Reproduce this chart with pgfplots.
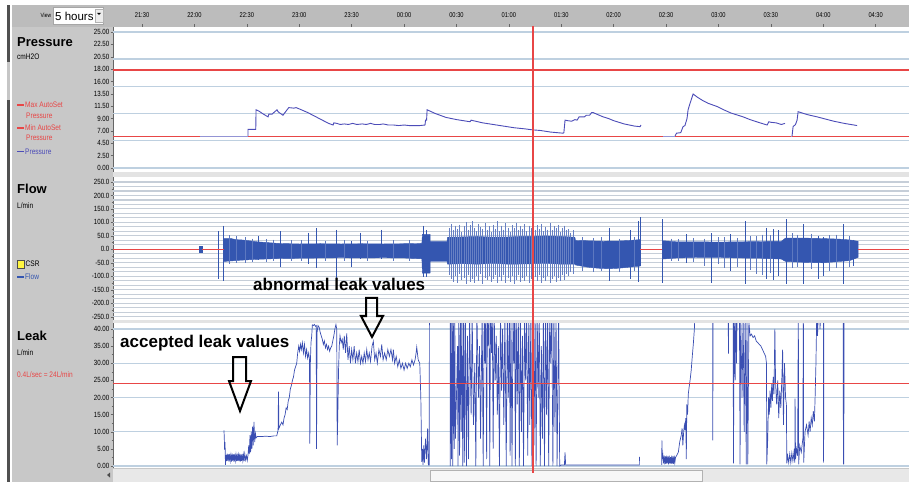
\documentclass[border=0pt]{standalone}
\usepackage{pgfplots}
\pgfplotsset{compat=1.18}
\usepackage{fontspec}
\setmainfont{Liberation Sans}
\newfontfamily\narrowfont[FakeStretch=0.82]{Liberation Sans}
\definecolor{panelgray}{RGB}{200,200,200}
\definecolor{topgray}{RGB}{188,188,188}
\definecolor{gridblue}{RGB}{190,208,224}
\definecolor{flowgrid}{RGB}{198,206,216}
\definecolor{redline}{RGB}{232,70,70}
\definecolor{pblue}{RGB}{76,76,184}
\definecolor{fblue}{RGB}{52,86,176}
\definecolor{lblue}{RGB}{58,78,178}
\definecolor{darkstrip}{RGB}{80,80,80}
\newcommand\tickfont{\narrowfont\fontsize{7.5}{8}\selectfont}
\newcommand\tinyfont{\narrowfont\fontsize{8}{9}\selectfont}
\newcommand\redrule[2]{\node[anchor=west, inner sep=0pt, outer sep=0pt] at (axis cs:#1) {\color{redline}\rule{#2}{1.3pt}};}
\pgfplotsset{
  panel/.style={
    scale only axis, width=796pt,
    xmin=21.223, xmax=28.818,
    axis background/.style={fill=white},
    separate axis lines,
    axis y line*=left,
    x axis line style={draw=none},
    y axis line style={draw=black!60, line width=0.5pt},
    tick align=outside,
    major tick length=2.5pt,
    minor tick length=1.5pt,
    tick style={black!60, line width=0.4pt},
    yticklabel style={font=\tickfont, inner sep=1pt},
    /pgf/number format/assume math mode=true,
    unbounded coords=jump,
    clip=true,
  }
}
\begin{document}
\begin{tikzpicture}[x=1pt,y=1pt]
\useasboundingbox (0,0) rectangle (909,482);
% backgrounds
\fill[white] (0,0) rectangle (909,482);
\fill[panelgray] (12,0) rectangle (909,477);
\fill[topgray] (12,455) rectangle (909,477);
\fill[darkstrip] (7,0) rectangle (10,477);
\fill[gray!45] (7,382) rectangle (10,420);
\fill[gray!22] (113,305) rectangle (909,310);
\fill[gray!22] (113,159) rectangle (909,162);
% scrollbar
\fill[gray!18] (113,0) rectangle (909,13);
\filldraw[fill=gray!6, draw=gray!60] (430,1) rectangle (702,12);
\fill[black!70] (107,7) -- (110,9.5) -- (110,4.5) -- cycle;
% view box
\filldraw[fill=white, draw=gray!70] (53,458) rectangle (103,475);
\filldraw[fill=gray!15, draw=gray!60] (95,460) rectangle (103,473);
\fill[black] (97,469) -- (101,469) -- (99,467) -- cycle;
\node[anchor=west, font=\narrowfont\fontsize{6}{6}\selectfont] at (37,467) {View};
\node[anchor=west, font=\fontsize{11.5}{12}\selectfont, inner sep=0pt] at (55,466) {5 hours};

% ---------------- Pressure ----------------
\begin{axis}[panel, at={(113pt,310pt)}, anchor=south west, height=145pt,
  ymin=-0.735, ymax=25.919,
  ytick={0,2.2727,4.5455,6.8182,9.0909,11.3636,13.6364,15.9091,18.1818,20.4545,22.7273,25},
  yticklabels={0.00,2.50,4.50,7.00,9.00,11.50,13.50,16.00,18.00,20.50,22.50,25.00},
  minor y tick num=3,
  xtick={21.5,22,22.5,23,23.5,24,24.5,25,25.5,26,26.5,27,27.5,28,28.5},
  xticklabels={21:30,22:00,22:30,23:00,23:30,00:00,00:30,01:00,01:30,02:00,02:30,03:00,03:30,04:00,04:30},
  xtick pos=right, xticklabel pos=right,
  xticklabel style={font=\narrowfont\fontsize{7}{7}\selectfont, yshift=3pt},
  extra y ticks={0,5,10,15,20,25}, extra y tick labels={},
  extra y tick style={grid=major, major tick length=0pt, yticklabel={}},
  major grid style={gridblue, line width=1.4pt},
]
\addplot[draw=redline, line width=1.3pt] coordinates {(21.2,18) (28.9,18)};
\addplot[draw=redline, line width=1.3pt] coordinates {(21.2,5.8) (28.9,5.8)};
\addplot[draw=pblue!60, line width=0.8pt] coordinates {(22.053,5.9) (22.511,5.9) (22.6,nan) (26.471,5.9) (26.586,5.9) (26.7,nan) (27.690,5.9) (27.702,5.9)};
\addplot[draw=pblue, line width=0.9pt] coordinates {
(22.511,5.9) (22.511,7.1) (22.585,7.1) (22.588,10.7) (22.62,10.4) (22.65,10.0) (22.702,9.4) (22.71,9.9) (22.74,9.9) (22.788,10.7) (22.80,10.3) (22.845,9.7) (22.86,10.1) (22.90,11.1) (22.95,11.0) (22.97,11.1) (23.008,10.8) (23.08,10.2) (23.15,9.5) (23.22,8.8) (23.28,8.2) (23.323,7.9) (23.33,8.3) (23.36,8.2) (23.39,8.0) (23.43,8.1) (23.47,8.0) (23.51,8.2) (23.55,8.0) (23.60,8.1) (23.64,8.0) (23.68,8.2) (23.72,8.0) (23.77,8.0) (23.80,8.1) (23.85,7.9) (23.90,7.9) (23.95,7.8) (24.00,7.9) (24.05,7.8) (24.10,7.8) (24.15,7.8) (24.20,7.9) (24.205,8.8) (24.215,8.8) (24.22,10.7) (24.30,10.0) (24.40,9.3) (24.50,8.9) (24.63,8.5) (24.64,8.8) (24.66,8.7) (24.75,8.3) (24.85,8.0) (24.95,7.7) (25.05,7.4) (25.15,7.2) (25.231,7.0) (25.30,6.9) (25.40,6.6) (25.517,6.4) (25.525,6.5) (25.536,8.8) (25.56,8.7) (25.60,8.6) (25.63,8.9) (25.651,8.8) (25.67,9.4) (25.72,9.4) (25.74,9.7) (25.77,9.7) (25.79,10.2) (25.803,10.2) (25.85,9.8) (25.90,9.4) (25.95,9.1) (26.00,8.7) (26.05,8.4) (26.10,8.1) (26.15,7.9) (26.20,7.7) (26.252,7.6) (26.26,7.9)
(26.3,nan)
(26.586,5.9) (26.60,6.4) (26.64,6.5) (26.662,7.6) (26.68,7.8) (26.700,9.1) (26.710,10.7) (26.729,11.9) (26.758,13.6) (26.80,13.0) (26.85,12.4) (26.90,11.9) (26.987,11.3) (27.05,10.7) (27.12,10.1) (27.235,9.4) (27.30,8.9) (27.38,8.4) (27.464,7.9) (27.48,8.5) (27.50,8.4) (27.55,8.3) (27.60,8.0) (27.635,8.2)
(27.66,nan)
(27.702,5.9) (27.712,7.6) (27.735,8.0) (27.750,8.8) (27.760,10.35) (27.80,10.1) (27.85,9.8) (27.941,9.4) (28.02,9.0) (28.10,8.6) (28.20,8.2) (28.323,7.8)
};
\addplot[draw=redline, line width=1.2pt] coordinates {(25.231,-1) (25.231,27)};
\end{axis}

% ---------------- Flow ----------------
\begin{axis}[panel, at={(113pt,162pt)}, anchor=south west, height=143pt,
  ymin=-262.25, ymax=268.56,
  ytick={-250,-200,-150,-100,-50,0,50,100,150,200,250},
  yticklabels={-250.0,-200.0,-150.0,-100.0,-50.0,0.0,50.0,100.0,150.0,200.0,250.0},
  minor y tick num=1,
  xtick=\empty,
  extra y ticks={-250,-233.33,-216.67,-200,-183.33,-166.67,-150,-133.33,-116.67,-100,-83.33,-66.67,-50,-33.33,-16.67,0,16.67,33.33,50,66.67,83.33,100,116.67,133.33,150,166.67,183.33,200,216.67,233.33,250},
  extra y tick labels={},
  extra y tick style={grid=major, major tick length=0pt, yticklabel={}},
  major grid style={flowgrid, line width=1.1pt},
]
\addplot[fill=fblue, draw=fblue, line width=0.3pt] coordinates {(22.047,13) (22.07,13) (22.07,-12) (22.047,-12)} -- cycle;
\addplot[fill=fblue, draw=fblue, line width=0.4pt] coordinates {
(22.28,-45) (22.28,40) (22.35,40) (22.40,36) (22.45,35) (22.52,32) (22.60,28) (22.70,25) (22.80,22) (22.90,21) (23.00,20) (23.20,21) (23.40,20) (23.60,21) (23.80,20) (24.00,21) (24.17,22) (24.175,56) (24.248,56) (24.25,30) (24.41,30) (24.415,45) (24.55,46) (24.70,48) (24.85,45) (25.00,46) (25.10,48) (25.20,48) (25.35,50) (25.50,48) (25.63,45) (25.635,33) (25.75,32) (25.90,30) (26.05,31) (26.15,33) (26.252,36)
(26.252,-62) (26.15,-66) (26.05,-70) (25.95,-72) (25.85,-70) (25.75,-66) (25.635,-58) (25.63,-55) (25.50,-55) (25.35,-52) (25.20,-54) (25.00,-55) (24.85,-52) (24.70,-55) (24.55,-53) (24.415,-55) (24.41,-45) (24.25,-45) (24.248,-88) (24.175,-88) (24.17,-35) (24.00,-32) (23.80,-31) (23.60,-32) (23.40,-31) (23.20,-32) (23.00,-33) (22.80,-34) (22.60,-37) (22.45,-40) (22.35,-43)
} -- cycle;
\addplot[fill=fblue, draw=fblue, line width=0.4pt] coordinates {
(26.47,32) (26.60,28) (26.80,28) (27.00,27) (27.20,28) (27.40,29) (27.60,30) (27.64,42) (27.80,42) (28.00,40) (28.15,38) (28.25,35) (28.332,30)
(28.332,-30) (28.25,-42) (28.15,-45) (28.00,-50) (27.80,-48) (27.64,-45) (27.60,-36) (27.40,-33) (27.20,-32) (27.00,-30) (26.80,-30) (26.60,-32) (26.47,-36)
} -- cycle;
% main spikes
\addplot[draw=fblue, line width=0.8pt] coordinates {
(22.228,68) (22.228,-111) (22.228,nan) (22.275,87) (22.275,-117) (22.275,nan) (22.610,50) (22.610,-40) (22.610,nan) (22.817,68) (22.817,-67) (22.817,nan) (23.087,62) (23.087,-55) (23.087,nan) (23.160,78) (23.160,-70) (23.160,nan) (23.358,72) (23.358,-117) (23.358,nan) (23.501,30) (23.501,-65) (23.501,nan) (23.580,62) (23.580,-35) (23.580,nan) (23.787,72) (23.787,-35) (23.787,nan) (24.184,87) (24.184,-102) (24.184,nan) (24.216,70) (24.216,-102) (24.216,nan)
(25.956,80) (25.956,-117) (25.956,nan) (26.156,70) (26.156,-110) (26.156,nan) (26.236,105) (26.236,-123) (26.236,nan) (26.252,120) (26.252,-60) (26.252,nan)
(26.466,111) (26.466,-124) (26.466,nan) (26.691,56) (26.691,-50) (26.691,nan) (26.936,60) (26.936,-124) (26.936,nan) (27.111,56) (27.111,-80) (27.111,nan) (27.254,105) (27.254,-130) (27.254,nan) (27.461,80) (27.461,-110) (27.461,nan) (27.524,75) (27.524,-115) (27.524,nan) (27.572,70) (27.572,-100) (27.572,nan) (27.652,111) (27.652,-130) (27.652,nan) (27.810,93) (27.810,-130) (27.810,nan) (27.953,50) (27.953,-110) (27.953,nan) (28.001,45) (28.001,-100) (28.001,nan) (28.192,93) (28.192,-130) (28.192,nan) (28.287,35) (28.287,-60)
};
% dense spikes of the disturbed part
\addplot[draw=fblue!75, line width=0.45pt] coordinates {
(24.43,80) (24.43,-95) (24.43,nan) (24.45,95) (24.45,-110) (24.45,nan) (24.47,70) (24.47,-120) (24.47,nan) (24.49,88) (24.49,-100) (24.49,nan) (24.51,75) (24.51,-125) (24.51,nan) (24.53,92) (24.53,-90) (24.53,nan) (24.55,65) (24.55,-115) (24.55,nan) (24.57,85) (24.57,-105) (24.57,nan) (24.59,100) (24.59,-130) (24.59,nan) (24.61,72) (24.61,-95) (24.61,nan) (24.63,90) (24.63,-120) (24.63,nan) (24.65,105) (24.65,-110) (24.65,nan) (24.67,78) (24.67,-125) (24.67,nan) (24.69,68) (24.69,-100) (24.69,nan) (24.71,95) (24.71,-118) (24.71,nan) (24.73,82) (24.73,-92) (24.73,nan) (24.75,74) (24.75,-128) (24.75,nan) (24.77,98) (24.77,-106) (24.77,nan) (24.79,70) (24.79,-115) (24.79,nan) (24.81,86) (24.81,-98) (24.81,nan) (24.83,64) (24.83,-122) (24.83,nan) (24.85,92) (24.85,-110) (24.85,nan) (24.87,76) (24.87,-95) (24.87,nan) (24.89,104) (24.89,-126) (24.89,nan) (24.91,68) (24.91,-104) (24.91,nan) (24.93,88) (24.93,-118) (24.93,nan) (24.95,73) (24.95,-96) (24.95,nan) (24.97,96) (24.97,-124) (24.97,nan) (24.99,80) (24.99,-108) (24.99,nan)
(25.01,66) (25.01,-120) (25.01,nan) (25.03,90) (25.03,-100) (25.03,nan) (25.05,78) (25.05,-127) (25.05,nan) (25.07,99) (25.07,-112) (25.07,nan) (25.09,70) (25.09,-94) (25.09,nan) (25.11,85) (25.11,-121) (25.11,nan) (25.13,74) (25.13,-105) (25.13,nan) (25.15,93) (25.15,-117) (25.15,nan) (25.17,67) (25.17,-99) (25.17,nan) (25.19,88) (25.19,-125) (25.19,nan) (25.21,79) (25.21,-110) (25.21,nan) (25.23,102) (25.23,-128) (25.23,nan) (25.25,72) (25.25,-103) (25.25,nan) (25.27,90) (25.27,-119) (25.27,nan) (25.29,76) (25.29,-96) (25.29,nan) (25.31,95) (25.31,-124) (25.31,nan) (25.33,68) (25.33,-108) (25.33,nan) (25.35,84) (25.35,-116) (25.35,nan) (25.37,73) (25.37,-100) (25.37,nan) (25.39,97) (25.39,-126) (25.39,nan) (25.41,70) (25.41,-111) (25.41,nan) (25.43,86) (25.43,-98) (25.43,nan) (25.45,78) (25.45,-122) (25.45,nan) (25.47,92) (25.47,-106) (25.47,nan) (25.49,65) (25.49,-118) (25.49,nan) (25.51,80) (25.51,-95) (25.51,nan) (25.53,88) (25.53,-112) (25.53,nan) (25.55,70) (25.55,-90) (25.55,nan) (25.57,75) (25.57,-100) (25.57,nan) (25.59,62) (25.59,-85) (25.59,nan) (25.61,70) (25.61,-92)
};
% small fuzz spikes along the quiet parts
\addplot[draw=fblue!80, line width=0.4pt] coordinates {
(22.33,52) (22.33,-55) (22.33,nan) (22.40,48) (22.40,-52) (22.40,nan) (22.48,45) (22.48,-50) (22.48,nan) (22.55,40) (22.55,-48) (22.55,nan) (22.68,38) (22.68,-46) (22.68,nan) (22.75,36) (22.75,-44) (22.75,nan) (22.92,34) (22.92,-45) (22.92,nan) (23.02,33) (23.02,-44) (23.02,nan) (23.25,32) (23.25,-42) (23.25,nan) (23.43,34) (23.43,-45) (23.43,nan) (23.65,32) (23.65,-42) (23.65,nan) (23.90,33) (23.90,-44) (23.90,nan) (24.05,34) (24.05,-43) (24.05,nan)
(25.70,45) (25.70,-80) (25.70,nan) (25.80,42) (25.80,-85) (25.80,nan) (25.88,44) (25.88,-82) (25.88,nan) (26.05,40) (26.05,-85) (26.05,nan) (26.20,45) (26.20,-80) (26.20,nan)
(26.55,40) (26.55,-45) (26.55,nan) (26.62,38) (26.62,-42) (26.62,nan) (26.76,42) (26.76,-48) (26.76,nan) (26.86,40) (26.86,-60) (26.86,nan) (27.00,44) (27.00,-55) (27.00,nan) (27.05,45) (27.05,-70) (27.05,nan) (27.18,42) (27.18,-65) (27.18,nan) (27.30,50) (27.30,-75) (27.30,nan) (27.36,48) (27.36,-90) (27.36,nan) (27.42,55) (27.42,-95) (27.42,nan) (27.49,52) (27.49,-88) (27.49,nan) (27.70,60) (27.70,-70) (27.70,nan) (27.75,55) (27.75,-65) (27.75,nan) (27.88,58) (27.88,-72) (27.88,nan) (28.06,52) (28.06,-80) (28.06,nan) (28.12,55) (28.12,-70) (28.12,nan) (28.25,48) (28.25,-65)
};
\addplot[draw=redline, line width=1.2pt] coordinates {(25.231,-300) (25.231,300)};
% zero line of the flow channel, visible where there is no signal
\redrule{21.223,0}{86.4pt}
\redrule{22.07,0}{22pt}
\redrule{26.254,0}{22.1pt}
\redrule{28.334,0}{50.7pt}
\end{axis}

% ---------------- Leak ----------------
\begin{axis}[panel, at={(113pt,14pt)}, anchor=south west, height=145pt,
  ymin=-0.584, ymax=41.75,
  ytick={0,5,10,15,20,25,30,35,40},
  yticklabels={0.00,5.00,10.00,15.00,20.00,25.00,30.00,35.00,40.00},
  minor y tick num=1,
  xtick=\empty,
  extra y ticks={0,10,20,30,40}, extra y tick labels={},
  extra y tick style={grid=major, major tick length=0pt, yticklabel={}},
  major grid style={gridblue, line width=1.4pt},
]
\addplot[draw=lblue, line width=0.7pt] coordinates {
(22.282,10.4) (22.285,8) (22.288,4.7) (22.292,7) (22.296,0.3) (22.300,3.2) (22.306,1.4) (22.312,3.6) (22.318,1.5) (22.324,3.4) (22.330,1.3) (22.336,3.5) (22.342,1.6) (22.348,3.2) (22.354,1.3) (22.360,3.6) (22.366,1.5) (22.372,3.4) (22.378,1.2) (22.384,3.5) (22.390,1.6) (22.396,3.3) (22.402,1.4) (22.408,3.6) (22.414,1.5) (22.420,3.2) (22.426,1.4) (22.432,3.6) (22.438,1.3) (22.444,3.4) (22.450,1.5) (22.456,3.5) (22.462,1.6) (22.468,3.3) (22.474,1.4) (22.480,3.6) (22.488,1.8) (22.496,3.0) (22.504,1.6) (22.511,3.2) (22.518,6) (22.524,3.5) (22.530,9) (22.536,4) (22.542,10) (22.548,5) (22.555,11.5) (22.561,6) (22.568,12.9) (22.575,7) (22.582,9.5) (22.588,8.2) (22.600,8.6) (22.640,8.6) (22.680,8.7) (22.720,8.6) (22.760,8.8) (22.785,8.8) (22.798,10.4) (22.802,21.7) (22.806,11) (22.820,12) (22.833,12.8) (22.845,12) (22.855,14) (22.865,15) (22.875,17) (22.885,16.5) (22.895,19) (22.905,20) (22.915,22.5) (22.925,23.5) (22.935,25) (22.945,26) (22.955,28) (22.965,29) (22.976,30) (22.985,33) (22.995,35) (23.003,33.5) (23.012,35.5) (23.020,34) (23.030,36) (23.040,33) (23.050,35.5) (23.060,32) (23.070,34) (23.080,31.5) (23.090,33) (23.098,31) (23.101,6.5) (23.106,30) (23.112,36) (23.119,38) (23.125,41.2) (23.135,41) (23.145,41.3) (23.155,40.8) (23.162,41) (23.165,5) (23.170,39) (23.179,41) (23.190,40.5) (23.200,39) (23.210,38) (23.220,37) (23.230,35.5) (23.240,36.5) (23.250,34.5) (23.260,35.5) (23.270,34) (23.280,35) (23.290,33.5) (23.300,34.5) (23.310,35) (23.320,36.5) (23.330,38) (23.340,40) (23.350,41.3) (23.358,40) (23.362,6) (23.368,15) (23.375,28) (23.382,35) (23.389,38) (23.400,36) (23.410,37) (23.420,34)
(23.430,38) (23.442,33) (23.453,38.7) (23.465,31) (23.477,35) (23.489,30) (23.500,34) (23.512,31) (23.524,35) (23.536,30) (23.548,33) (23.560,30.5) (23.572,34) (23.584,30) (23.596,32) (23.608,30) (23.620,33) (23.632,30.5) (23.644,34) (23.656,31) (23.668,33) (23.680,30.5) (23.695,35) (23.707,36.4) (23.720,31) (23.733,33) (23.745,30) (23.760,34) (23.775,32) (23.787,35.5) (23.800,31) (23.815,33) (23.830,31) (23.845,34) (23.860,32) (23.875,34) (23.890,31) (23.898,34) (23.910,30) (23.925,32) (23.940,29) (23.955,31) (23.970,28.5) (23.985,30) (24.000,28) (24.015,30) (24.030,28.5) (24.045,30) (24.060,29) (24.075,31) (24.090,29.5) (24.105,31) (24.115,33) (24.121,34.7) (24.135,31) (24.150,30) (24.160,20) (24.169,1.2) (24.175,5) (24.181,0.3) (24.188,6) (24.195,1) (24.205,8) (24.215,2) (24.225,11) (24.232,0.3) (24.240,0.3) (24.242,45)
(24.440,45) (24.441,0) (24.445,45) (24.452,2) (24.458,45) (24.465,0) (24.470,45) (24.478,5) (24.484,45) (24.490,8) (24.500,20) (24.510,35) (24.515,0) (24.522,45) (24.530,3) (24.538,45) (24.545,10) (24.552,45) (24.560,0) (24.568,45) (24.575,1) (24.585,45) (24.595,0) (24.605,38) (24.615,2) (24.625,45) (24.640,15) (24.650,45) (24.662,12) (24.675,30) (24.685,0) (24.695,45) (24.710,20) (24.720,35) (24.730,8) (24.745,45) (24.755,0) (24.765,45) (24.772,30) (24.780,45) (24.788,2) (24.795,45) (24.802,35) (24.810,45) (24.818,0) (24.825,45) (24.835,33) (24.842,45) (24.850,5) (24.860,45) (24.870,25) (24.880,38) (24.890,15) (24.900,35) (24.910,0) (24.920,45) (24.930,22) (24.940,40) (24.952,12) (24.962,45) (24.975,0) (24.985,45) (24.995,20) (25.005,45) (25.012,3) (25.020,45) (25.030,0) (25.040,45) (25.048,30) (25.055,45) (25.062,0) (25.070,45) (25.080,18) (25.090,45) (25.100,0) (25.110,45) (25.120,10) (25.130,38) (25.140,0) (25.150,45) (25.160,25) (25.170,45) (25.180,3) (25.190,45) (25.200,12) (25.210,45) (25.220,0) (25.230,45) (25.240,6) (25.250,45) (25.260,0) (25.270,45) (25.280,20) (25.290,45) (25.300,0) (25.310,35) (25.320,8) (25.330,45) (25.340,0) (25.350,45) (25.360,15) (25.370,45) (25.380,0) (25.390,45) (25.400,30) (25.410,45) (25.420,0) (25.430,45) (25.440,10) (25.450,45) (25.460,0) (25.475,45) (25.485,0) (25.500,0.3) (25.530,0.3) (25.536,4) (25.542,0.3) (26.245,0.3) (26.246,2.7)
(26.3,nan)
(26.459,0.3) (26.460,7.5) (26.465,2) (26.470,3) (26.476,0.8) (26.482,3) (26.488,0.5) (26.494,2.8) (26.500,0.6) (26.506,3) (26.512,0.8) (26.518,2.8) (26.524,0.5) (26.530,3) (26.536,0.8) (26.542,2.6) (26.548,0.6) (26.554,3) (26.560,0.7) (26.566,2.8) (26.572,0.6) (26.578,3) (26.584,1) (26.590,2.5) (26.600,3) (26.617,4) (26.630,7) (26.645,9) (26.653,11) (26.660,6) (26.668,10) (26.675,12) (26.681,10.5) (26.688,14) (26.693,2) (26.698,18) (26.705,15) (26.712,21) (26.720,23) (26.729,25) (26.740,28) (26.750,32) (26.761,36) (26.770,40) (26.777,45) (26.944,45) (26.946,7.5) (26.948,45) (27.093,45) (27.095,32.8) (27.097,45) (27.140,45) (27.143,0.8) (27.150,45) (27.159,25) (27.165,45) (27.172,30) (27.178,45) (27.200,45) (27.206,0.5) (27.212,45) (27.225,20) (27.235,45) (27.245,10) (27.255,45) (27.265,0.5) (27.272,45) (27.280,0.5) (27.290,42) (27.302,38) (27.315,38.5) (27.330,37.5) (27.345,38) (27.360,36.5) (27.375,36) (27.390,35.5) (27.405,35) (27.420,34) (27.435,33) (27.450,32) (27.458,30) (27.461,0.5) (27.470,8) (27.478,20) (27.485,15) (27.492,22) (27.500,17) (27.508,24) (27.515,19) (27.522,26) (27.530,21) (27.538,40) (27.545,24) (27.555,18) (27.565,25) (27.575,14) (27.585,22) (27.595,17) (27.605,26) (27.612,34) (27.620,12) (27.630,30) (27.640,20) (27.648,18) (27.652,0.8) (27.660,3) (27.670,1) (27.680,3.5) (27.690,1) (27.700,3.8) (27.710,1.5) (27.720,4) (27.728,1) (27.731,19.7) (27.735,2) (27.745,5) (27.755,3) (27.762,45) (27.765,0.5) (27.775,6) (27.790,4) (27.805,8) (27.810,45) (27.813,1) (27.826,10) (27.840,12) (27.855,9) (27.865,13) (27.874,10) (27.885,14) (27.895,12) (27.905,16) (27.915,13) (27.922,20) (27.930,30) (27.938,45) (27.945,38) (27.953,45) (27.965,45) (27.969,40) (27.975,45) (28.001,45) (28.003,1) (28.006,45) (28.190,45) (28.192,0.5) (28.194,45) (28.196,0.5) (28.198,45)
};
\addplot[draw=redline, line width=1.2pt] coordinates {(25.231,-5) (25.231,50)};
% 0.4 L/sec = 24 L/min threshold
\redrule{21.223,24}{796pt}
\end{axis}

% cursor across the separators and scrollbar
\fill[redline] (532.4,305) rectangle (533.6,310);
\fill[redline] (532.4,159) rectangle (533.6,162);
\fill[redline] (532.4,9) rectangle (533.6,14);

% left labels: pressure
\node[anchor=west, font=\fontsize{13}{13}\bfseries\selectfont, inner sep=0pt] at (17,440) {Pressure};
\node[anchor=west, font=\tinyfont, inner sep=0pt] at (17,425) {cmH2O};
\draw[draw=redline, line width=1.3pt] (17,377) -- (24,377);
\node[anchor=west, font=\tinyfont, text=redline, inner sep=0pt] at (25,377) {Max AutoSet};
\node[anchor=west, font=\tinyfont, text=redline, inner sep=0pt] at (26,366.5) {Pressure};
\draw[draw=redline, line width=1.3pt] (17,354) -- (24,354);
\node[anchor=west, font=\tinyfont, text=redline, inner sep=0pt] at (25,354) {Min AutoSet};
\node[anchor=west, font=\tinyfont, text=redline, inner sep=0pt] at (26,344) {Pressure};
\draw[draw=pblue, line width=1.1pt] (17,330.5) -- (24,330.5);
\node[anchor=west, font=\tinyfont, text=pblue, inner sep=0pt] at (25,330.5) {Pressure};
% flow
\node[anchor=west, font=\fontsize{13}{13}\bfseries\selectfont, inner sep=0pt] at (17,293) {Flow};
\node[anchor=west, font=\tinyfont, inner sep=0pt] at (17,276) {L/min};
\filldraw[fill=yellow!75, draw=black!70, line width=0.5pt] (17.5,214) rectangle (24,222);
\node[anchor=west, font=\tinyfont, inner sep=0pt] at (25.5,218) {CSR};
\draw[draw=fblue, line width=1.1pt] (17,205) -- (24,205);
\node[anchor=west, font=\tinyfont, text=fblue, inner sep=0pt] at (25,205) {Flow};
% leak
\node[anchor=west, font=\fontsize{13}{13}\bfseries\selectfont, inner sep=0pt] at (17,146) {Leak};
\node[anchor=west, font=\tinyfont, inner sep=0pt] at (17,129) {L/min};
\node[anchor=west, font=\tinyfont, text=redline, inner sep=0pt] at (17,107) {0.4L/sec = 24L/min};

% annotations
\node[anchor=base west, font=\fontsize{17}{17}\bfseries\selectfont, inner sep=0pt] at (120,135) {accepted leak values};
\node[anchor=base west, font=\fontsize{17}{17}\bfseries\selectfont, inner sep=0pt] at (253,191) {abnormal leak values};
\draw[black, line width=2pt, line join=miter]
  (233,125) -- (246,125) -- (246,101) -- (251,101) -- (240,71) -- (229,101) -- (233,101) -- cycle;
\draw[black, line width=2pt, line join=miter]
  (366,184) -- (377,184) -- (377,166) -- (383,166) -- (372,145) -- (361,166) -- (366,166) -- cycle;
\end{tikzpicture}
\end{document}
